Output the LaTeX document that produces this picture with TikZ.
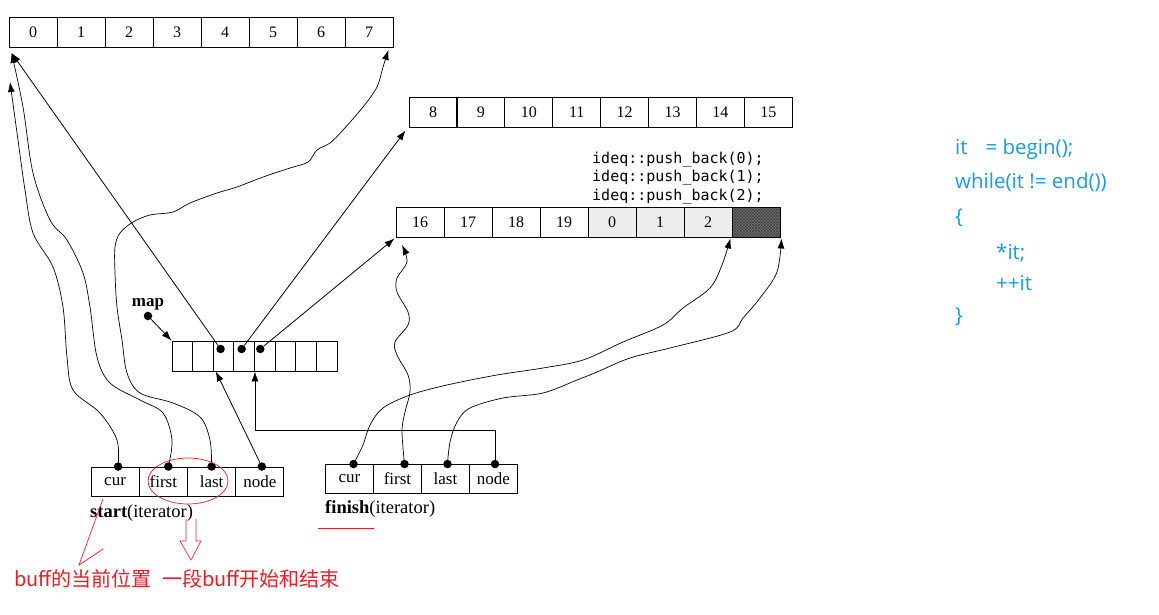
\documentclass[tikz,border=0pt]{standalone}
\usepackage{fontspec}
\setmainfont{Liberation Serif}
\newfontfamily\cjkfont{Noto Sans CJK SC}
\newfontfamily\codefont{DejaVu Sans Mono}
\newfontfamily\bluefont{Open Sans}
\usetikzlibrary{arrows.meta,calc,patterns}
\definecolor{annred}{RGB}{228,32,38}
\definecolor{codeblue}{RGB}{28,155,222}
\begin{document}
\begin{tikzpicture}[x=1pt,y=-1pt,
  cellbox/.style={draw, line width=0.9pt, minimum width=48pt, minimum height=30pt, inner sep=0pt, font=\fontsize{16}{16}\selectfont},
  mapcell/.style={draw, line width=0.9pt, minimum width=20.625pt, minimum height=30pt, inner sep=0pt},
  itbox/.style={draw, line width=0.9pt, minimum width=48pt, minimum height=29pt, inner sep=0pt, font=\fontsize{17}{17}\selectfont},
  ptdot/.style={circle, fill=black, inner sep=0pt, minimum size=8.5pt},
  ptr/.style={-{Latex[length=10pt,width=7pt]}, line width=0.8pt},
  wavy/.style={ptr, line width=0.7pt},
  ann/.style={annred, line width=0.7pt},
  anntext/.style={annred, anchor=west, inner sep=0pt, font=\cjkfont\fontsize{20}{20}\selectfont},
  bluetext/.style={codeblue, anchor=base west, inner sep=0pt, font=\bluefont\fontsize{20.5}{20.5}\selectfont}]
\useasboundingbox (0,0) rectangle (1159,615);
\fill[white] (0,0) rectangle (1159,615);

% buffer 1
\foreach \i in {0,...,7} \node[cellbox] (b1c\i) at (33+48*\i, 32.5) {\i};
% buffer 2
\foreach \i/\t in {0/8,1/9,2/10,3/11,4/12,5/13,6/14,7/15}
  \node[cellbox] (b2c\i) at (433+47.9*\i, 112) {\t};
% buffer 3
\foreach \i/\t in {0/16,1/17,2/18,3/19}
  \node[cellbox] (b3c\i) at (420+48*\i, 222) {\t};
\foreach \i/\t in {4/0,5/1,6/2}
  \node[cellbox, fill=black!7] (b3c\i) at (420+48*\i, 222) {\t};
\node[cellbox, preaction={fill=black!55}, pattern=crosshatch, pattern color=black!75] (b3c7) at (756, 222) {};

% code above buffer 3
\node[anchor=west, inner sep=0pt, align=left, font=\codefont\fontsize{15}{18.5}\selectfont] (code) at (592,178)
  {ideq::push\_back(0);\\ideq::push\_back(1);\\ideq::push\_back(2);};

% map
\foreach \i in {0,...,7} \node[mapcell] (m\i) at (182.3+20.625*\i, 356) {};
\node[ptdot] (md2) at ($(m2)+(-3,-7)$) {};
\node[ptdot] (md3) at ($(m3)+(-2.5,-7)$) {};
\node[ptdot] (md4) at ($(m4)+(-4.5,-7)$) {};
\node[font=\bfseries\fontsize{17}{17}\selectfont, inner sep=0pt] (maplabel) at (148,304) {map};
\node[ptdot] (mapdot) at (148,316) {};
\draw[ptr] (mapdot) -- (m0.north west);

% start iterator
\foreach \i/\t in {0/cur,1/first,2/last,3/node}
  \node[itbox] (s\i) at (115.1+48.25*\i, 481.5) {\t};
\node[ptdot] (sd0) at ($(s0.north)+(3,0)$) {};
\node[ptdot] (sd1) at ($(s1.north)+(5,0)$) {};
\node[ptdot] (sd2) at ($(s2.north)+(0,0)$) {};
\node[ptdot] (sd3) at ($(s3.north)+(2,0)$) {};
\node[anchor=west, inner sep=0pt, font=\fontsize{18.5}{18.5}\selectfont] (slabel) at (90,513) {\textbf{start}(iterator)};

% finish iterator
\foreach \i/\t in {0/cur,1/first,2/last,3/node}
  \node[itbox] (f\i) at (349.5+48*\i, 479) {\t};
\node[ptdot] (fd0) at ($(f0.north)+(4,0)$) {};
\node[ptdot] (fd1) at ($(f1.north)+(7,0)$) {};
\node[ptdot] (fd2) at ($(f2.north)+(2,0)$) {};
\node[ptdot] (fd3) at ($(f3.north)+(1.5,0)$) {};
\node[anchor=west, inner sep=0pt, font=\fontsize{18.5}{18.5}\selectfont] (flabel) at (325,509) {\textbf{finish}(iterator)};

% targets
\coordinate (t1a) at ($(b1c0.south west)+(3,5)$);
\coordinate (t1cur) at (10,82);
\coordinate (t1end) at ($(b1c7.south east)+(-5,2)$);
\coordinate (t2a) at ($(b2c0.south west)+(-3,3)$);
\coordinate (t3a) at ($(b3c0.south west)+(-1,1)$);
\coordinate (t3first) at (402,245);
\coordinate (t3cur) at ($(b3c6.south east)+(-2,1)$);
\coordinate (t3end) at ($(b3c7.south east)+(1,1)$);

% map pointers
\draw[ptr] (md2) -- (t1a);
\draw[ptr] (md3) -- (t2a);
\draw[ptr] (md4) -- (t3a);

% start pointers
\draw[wavy] plot[smooth, tension=0.55] coordinates {(sd0) (117,440) (100,413) (73,390) (67,357) (63,307) (53,267) (33,233) (25,190) (18,140) (t1cur)};
\draw[wavy] plot[smooth, tension=0.55] coordinates {(sd1) (172,440) (163,413) (140,400) (110,383) (97,357) (90,307) (83,273) (67,240) (50,220) (33,173) (23,107) (t1a)};
\draw[wavy] plot[smooth, tension=0.55] coordinates {(sd2) (210,440) (200,417) (173,403) (140,393) (127,373) (122,340) (117,307) (115,273) (115,247) (120,233) (133,222) (150,215) (173,212) (190,203) (217,193) (237,187) (263,177) (290,168) (308,162) (317,150) (330,143) (343,130) (363,107) (377,87) (383,67) (t1end)};
\draw[ptr] (sd3) -- ($(m2.south west)+(3,0)$);

% finish pointers
\draw[wavy] plot[smooth, tension=0.55] coordinates {(fd0) (363,445) (370,425) (383,408) (410,395) (447,385) (497,375) (543,368) (583,360) (623,342) (663,325) (683,308) (710,288) (722,265) (t3cur)};
\draw[wavy] plot[smooth, tension=0.55] coordinates {(fd1) (402,431) (405,412) (410,392) (408,375) (397,355) (395,342) (408,325) (408,312) (397,292) (397,278) (407,262) (t3first)};
\draw[wavy] plot[smooth, tension=0.55] coordinates {(fd2) (450,442) (457,422) (470,408) (503,398) (543,393) (577,380) (597,372) (630,358) (670,348) (730,332) (743,318) (760,298) (777,272) (t3end)};
\coordinate (fbend) at ($(m3.south east)+(0,59)$);
\draw[ptr] (fd3) |- (fbend) -- (m3.south east);

% red annotations
\draw[ann] (188,481) ellipse [x radius=40, y radius=23];
\coordinate (ra) at (103,499);
\coordinate (rb) at (79,565);
\coordinate (rc) at (103,549);
\draw[ann] (ra) -- (rb) -- (rc);
\coordinate (ha) at (186,519);
\coordinate (hb) at (196,519);
\draw[ann, line width=0.6pt] (ha) -- ++(0,22) -- ++(-6,0) -- ++(11,19) -- ++(10,-19) -- ++(-5,0) -- (hb);
\coordinate (ua) at (318,528);
\coordinate (ub) at (374,528);
\draw[ann] (ua) -- (ub);
\node[anntext] (ann1) at (14,579) {buff的当前位置};
\node[anntext] (ann2) at (162,579) {一段buff开始和结束};

% blue code
\node[bluetext] (l1) at (955,154) {it\hspace{18pt}= begin();};
\node[bluetext] (l2) at (955,188) {while(it != end())};
\node[bluetext] (l3) at (955,223) {\{};
\node[bluetext] (l4) at (996,259) {*it;};
\node[bluetext] (l5) at (996,290) {++it};
\node[bluetext] (l6) at (955,322) {\}};
\end{tikzpicture}
\end{document}
